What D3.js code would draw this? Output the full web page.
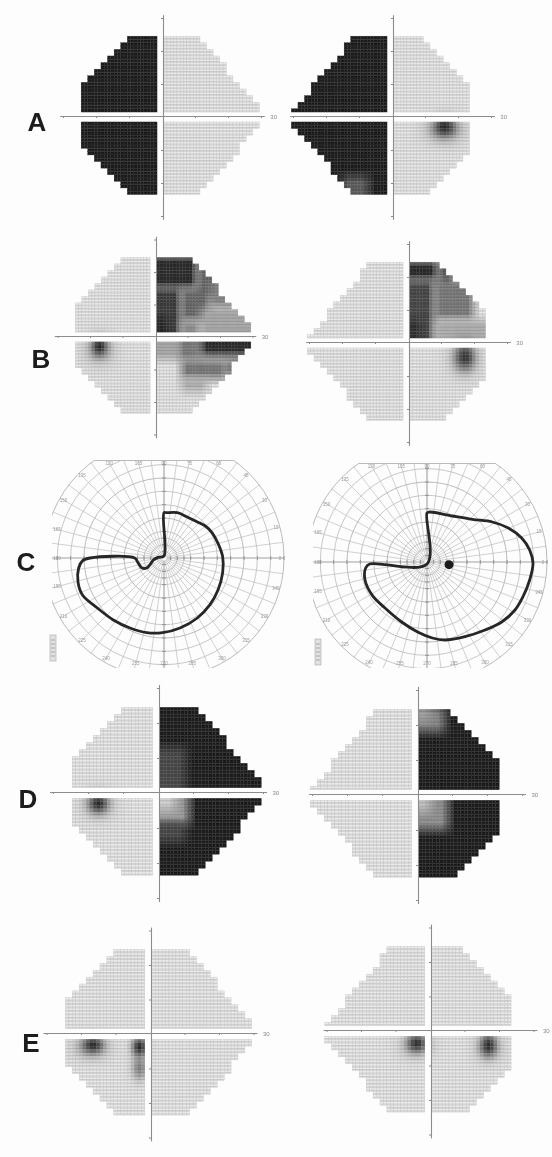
<!DOCTYPE html>
<html>
<head>
<meta charset="utf-8">
<script src="https://cdn.jsdelivr.net/npm/d3@7/dist/d3.min.js"></script>
<style>
body{margin:0;background:#fff}
svg{display:block}
</style>
</head>
<body>
<svg id="fig"></svg>
<script>
var W = 552, H = 1157;

// row letters
var rowLabels = ["A", "B", "C", "D", "E"];

// outline of the tested field, degrees (x to the right, y downward)
var outlineLeftEye  = [[-9.5,-24.5],[11,-24.5],[30.5,-1.5],[30.5,1.5],[11,24],[-9.5,24],[-24.5,9.5],[-24.5,-9.5]];
var outlineRightEye = [[-11,-24.5],[9.5,-24.5],[24,-9.5],[24,9.5],[9.5,24],[-11,24],[-30.5,1.5],[-30.5,-1.5]];

// grey scale maps: A left, A right, B left, B right, D left, D right, E left, E right
var mapEye = ["L","R","L","R","L","R","L","R"];
// sensitivity per quadrant [upper-left, upper-right, lower-left, lower-right], 1 normal, 0 absolute defect
var quadrantLevels = [
  [0,1,0,1], [0,1,0,1],
  [1,1,1,1], [1,1,1,1],
  [1,0,1,0], [1,0,1,0],
  [1,1,1,1], [1,1,1,1]
];
// relative defects [x0, x1, y0, y1, level]
var patches = [
  [],
  [[-15,-7,18,25,0.3]],
  [[0,13,-25,-15,0.06],[13,20,-23,-12,0.35],[0,8,-15,0,0.14],[0,4,-6,0,0.04],[8,17,-15,-5,0.36],
   [17,27,-17,-9,0.5],[8,14,-5,0,0.55],[14,31,-9,0,0.68],
   [0,7,0,7,0.68],[7,14,0,7,0.45],[14,31,0,6,0.06],[8,22,7,13,0.45],[22,27,7,12,0.35],[8,16,13,17,0.72]],
  [[0,9,-25,-19,0.06],[9,14,-25,-17,0.3],[0,8,-19,0,0.2],[0,4,-7,0,0.08],[8,20,-19,-7,0.45],[8,25,-7,0,0.72]],
  [[0,8,-13,0,0.2],[0,9,0,9,0.62],[0,5,0,5,0.88],[0,8,9,14,0.2]],
  [[0,8,-25,-18,0.5],[0,4,-25,-21,0.65],[0,9,0,10,0.55],[0,4,0,5,0.8]],
  [],
  []
];
// local scotomas [x, y, radius x, radius y, depth]
var scotomas = [
  [],
  [[16,3,3,2.6,0.95],[16,4,5.5,4,0.4]],
  [[-17,3,2.2,2.6,0.95],[-17,4,4.5,4.5,0.35]],
  [[17.3,4.2,2.8,3.8,0.85],[17,5,4.5,5,0.3]],
  [[-17,3,2.6,2.6,0.9],[-17,3.5,4.5,4,0.3]],
  [],
  [[-16.5,3.2,2.8,2.2,0.9],[-17,4,5,3.5,0.35],[-3,3.8,2.2,2.8,0.95],[-3,10,2.2,3.5,0.5]],
  [[-3.8,3.6,2.6,2.4,0.9],[-4,4.5,4.5,3.5,0.3],[17,4.2,2.2,3,0.9],[17,5,4,4,0.3]]
];
var axisTicks = [-30,-20,-10,10,20,30];

// Goldmann perimetry (row C): rings, meridians and isopters (degrees, x right, y up)
var goldmannRings = [5,10,15,20,30,40,50,60,70,80,90];
var goldmannMeridians = [0,7.5,15,22.5,30,37.5,45,52.5,60,67.5,75,82.5,90,97.5,105,112.5,120,127.5,135,142.5,
  150,157.5,165,172.5,180,187.5,195,202.5,210,217.5,225,232.5,240,247.5,255,262.5,270,277.5,285,292.5,
  300,307.5,315,322.5,330,337.5,345,352.5];
var meridianLabels = [0,15,30,45,60,75,90,105,120,135,150,165,180,195,210,225,240,255,270,285,300,315,330,345];
var isopterLeft = [[0,1.5],[0,34],[2,34],[10,34],[17,31],[25,27],[31,24],[36,19],[40.5,11],[44,1],[44,-11],
  [40.5,-24],[34.5,-35],[25,-45],[12,-52.5],[-1,-56],[-13,-56],[-25.5,-52.5],[-38,-46.5],[-50,-37.5],
  [-61,-28],[-64.5,-18],[-64,-7.5],[-61,-2],[-55.5,0],[-22,0],[-19.5,-3.5],[-16.5,-7.5],[-13,-7.5],
  [-10.5,-5],[-8,-1.5],[-4.5,0.5]];
var isopterRight = [[0,-1.5],[0,36.8],[2,37.5],[19,34.5],[34,32],[49,30],[61,25.5],[71,18],[77,9],
  [79.5,-1],[77,-13.5],[72,-26],[66,-36],[56,-45],[43.5,-51],[28.5,-56],[13.5,-58.5],[4,-57],
  [-7,-52.5],[-19,-45],[-31.5,-34.5],[-41,-25],[-46.5,-13.5],[-46,-4.5],[-43,-1.5]];
var blindSpotRight = [[16.5,-2]];

// layout (pixels)
var mapLayout = [
  {cx:162,cy:117,k:3.3},{cx:392,cy:117,k:3.3},
  {cx:155,cy:337,k:3.25},{cx:408,cy:343,k:3.3},
  {cx:158,cy:793,k:3.5},{cx:417,cy:795,k:3.5},
  {cx:150,cy:1034,k:3.45},{cx:430,cy:1031,k:3.45}
];
var goldLayout = [
  {cx:164,cy:558,box:[-112,121,-98,110]},
  {cx:427,cy:562,box:[-114,125,-99,106]}
];
var labelPos = [[37,131],[41,368],[26,571],[28,808],[31,1052]];

var svg = d3.select("#fig").attr("width", W).attr("height", H);
svg.append("rect").attr("width", W).attr("height", H).attr("fill", "#fdfdfd");

var defs = svg.append("defs");
defs.append("filter").attr("id","soft").append("feGaussianBlur").attr("stdDeviation",0.5);

var fillCol = d3.interpolateRgb("#191919", "#ebebeb");
var lineCol = d3.interpolateRgb("#262626", "#c0c0c0");

function ramp(t){ return Math.max(0, Math.min(1, 0.5 + t/4)); }
function edgeLo(u, e){ return e == 0 ? (u >= 0 ? 1 : 0) : ramp(u - e); }
function edgeHi(u, e){ return e == 0 ? (u <= 0 ? 1 : 0) : ramp(e - u); }

function drawMap(idx){
  var L = mapLayout[idx], k = L.k;
  var x = d3.scaleLinear().domain([-31,31]).range([L.cx-31*k, L.cx+31*k]);
  var y = d3.scaleLinear().domain([-31,31]).range([L.cy-31*k, L.cy+31*k]);
  var outline = mapEye[idx] == "L" ? outlineLeftEye : outlineRightEye;
  var cells = [];
  for (var i = -31; i <= 31; i++){
    if (i == -1 || i == 0) continue;
    for (var j = -26; j <= 26; j++){
      if (j >= -1 && j <= 1) continue;
      var bx = 2*Math.floor(i/2)+0.5, by = 2*Math.floor(j/2)+0.5;
      if (!d3.polygonContains(outline, [bx, by])) continue;
      var v = quadrantLevels[idx][(j < 0 ? 0 : 2) + (i < 0 ? 0 : 1)];
      patches[idx].forEach(function(p){
        var w = edgeLo(i, p[0]) * edgeHi(i, p[1]) * edgeLo(j, p[2]) * edgeHi(j, p[3]);
        v = v*(1-w) + p[4]*w;
      });
      scotomas[idx].forEach(function(s){
        var d = Math.pow((i-s[0])/s[2],2) + Math.pow((j-s[1])/s[3],2);
        v *= 1 - s[4]*Math.exp(-d);
      });
      cells.push({i:i, j:j, v:v});
    }
  }
  var g = svg.append("g").attr("filter","url(#soft)");
  g.selectAll("rect").data(cells).enter().append("rect")
    .attr("x", function(d){ return x(d.i-0.5); })
    .attr("y", function(d){ return y(d.j-0.5); })
    .attr("width", k).attr("height", k)
    .attr("fill", function(d){ return fillCol(d.v); })
    .attr("stroke", function(d){ return lineCol(Math.min(1, d.v + 0.12)); })
    .attr("stroke-width", 0.35);
  // horizontal rows of the print texture
  g.selectAll("line").data(cells).enter().append("line")
    .attr("x1", function(d){ return x(d.i-0.5); })
    .attr("x2", function(d){ return x(d.i+0.5); })
    .attr("y1", function(d){ return y(d.j+0.2); })
    .attr("y2", function(d){ return y(d.j+0.2); })
    .attr("stroke", function(d){ return lineCol(d.v); })
    .attr("stroke-width", 0.8);

  var xAxis = d3.axisBottom(x).tickValues(axisTicks).tickSize(2).tickSizeOuter(0).tickFormat("");
  var yAxis = d3.axisLeft(y).tickValues(axisTicks).tickSize(2).tickSizeOuter(0).tickFormat("");
  var ax = svg.append("g").attr("color","#8c8c8c").attr("filter","url(#soft)");
  ax.append("g").attr("transform","translate(0,"+(L.cy-1)+")").call(xAxis);
  ax.append("g").attr("transform","translate("+(L.cx+1)+",0)").call(yAxis);
  ax.selectAll("path.domain").attr("stroke-width",1.1);
  ax.append("text").attr("x", x(31)+6).attr("y", L.cy+2)
    .attr("font-family","Liberation Sans, Arial, sans-serif").attr("font-size",6)
    .attr("fill","#888").text("30");
}

function drawGoldmann(idx, isopter){
  var G = goldLayout[idx];
  var xg = d3.scaleLinear().domain([-90,90]).range([G.cx-120, G.cx+120]);
  var yg = d3.scaleLinear().domain([-90,90]).range([G.cy+120, G.cy-120]);
  var rs = d3.scaleLinear().domain([0,90]).range([0,120]);
  var b = G.box;
  var cid = "clipC"+idx;
  defs.append("clipPath").attr("id",cid).append("rect")
    .attr("x",G.cx+b[0]).attr("y",G.cy+b[2]).attr("width",b[1]-b[0]).attr("height",b[3]-b[2]);
  var g = svg.append("g").attr("filter","url(#soft)");
  var grid = g.append("g").attr("clip-path","url(#"+cid+")").attr("fill","none").attr("stroke","#bababa");
  grid.selectAll("circle").data(goldmannRings).enter().append("circle")
    .attr("cx",G.cx).attr("cy",G.cy).attr("r",function(d){ return rs(d); })
    .attr("stroke-width",function(d){ return d % 30 == 0 ? 1 : 0.8; });
  grid.selectAll("line.mer").data(goldmannMeridians).enter().append("line")
    .attr("x1",function(a){ var r0 = a % 15 == 0 ? 2 : 8; return xg(r0*Math.cos(a*Math.PI/180)); })
    .attr("y1",function(a){ var r0 = a % 15 == 0 ? 2 : 8; return yg(r0*Math.sin(a*Math.PI/180)); })
    .attr("x2",function(a){ return xg(90*Math.cos(a*Math.PI/180)); })
    .attr("y2",function(a){ return yg(90*Math.sin(a*Math.PI/180)); })
    .attr("stroke-width",function(a){ return a % 90 == 0 ? 1.1 : 0.7; })
    .attr("stroke",function(a){ return a % 90 == 0 ? "#a0a0a0" : "#bdbdbd"; });
  // top border of the chart, inside the outer ring
  var half = Math.sqrt(120*120 - b[2]*b[2]);
  grid.append("line").attr("x1",G.cx-half).attr("x2",G.cx+half)
    .attr("y1",G.cy+b[2]+0.5).attr("y2",G.cy+b[2]+0.5).attr("stroke-width",1);
  // small marks along the main meridians
  var marks = [];
  goldmannRings.forEach(function(r){ [0,90,180,270].forEach(function(a){ marks.push([r,a]); }); });
  grid.selectAll("line.mk").data(marks).enter().append("line")
    .attr("x1",function(d){ var c=Math.cos(d[1]*Math.PI/180), s=Math.sin(d[1]*Math.PI/180); return xg(d[0]*c) - 2*s; })
    .attr("x2",function(d){ var c=Math.cos(d[1]*Math.PI/180), s=Math.sin(d[1]*Math.PI/180); return xg(d[0]*c) + 2*s; })
    .attr("y1",function(d){ var c=Math.cos(d[1]*Math.PI/180); return yg(d[0]*Math.sin(d[1]*Math.PI/180)) - 2*c; })
    .attr("y2",function(d){ var c=Math.cos(d[1]*Math.PI/180); return yg(d[0]*Math.sin(d[1]*Math.PI/180)) + 2*c; })
    .attr("stroke","#909090").attr("stroke-width",0.9);
  // tiny meridian labels near the edge of the chart
  var labs = meridianLabels.map(function(a){
    var c = Math.cos(a*Math.PI/180), s = -Math.sin(a*Math.PI/180), t = 116;
    if (c > 1e-6) t = Math.min(t, (b[1]-5)/c);
    if (c < -1e-6) t = Math.min(t, (b[0]+5)/c);
    if (s > 1e-6) t = Math.min(t, (b[3]-5)/s);
    if (s < -1e-6) t = Math.min(t, (b[2]+3)/s);
    return {a:a, x:G.cx+t*c, y:G.cy+t*s};
  });
  g.selectAll("text.ml").data(labs).enter().append("text")
    .attr("x",function(d){ return d.x; }).attr("y",function(d){ return d.y+1.5; })
    .attr("text-anchor","middle").attr("font-family","Liberation Sans, Arial, sans-serif")
    .attr("font-size",4.5).attr("fill","#9a9a9a").text(function(d){ return d.a; });
  // little legend block in the lower left corner
  var lg = g.append("g").attr("transform","translate("+(G.cx+b[0]-2+(idx?4:0))+","+(G.cy+77)+")");
  lg.append("rect").attr("width",6).attr("height",26).attr("fill","#e2e2e2").attr("stroke","#a8a8a8").attr("stroke-width",0.6);
  lg.selectAll("line").data([5,9,13,17,21]).enter().append("line")
    .attr("x1",1).attr("x2",5).attr("y1",function(d){ return d; }).attr("y2",function(d){ return d; })
    .attr("stroke","#9a9a9a").attr("stroke-width",0.8);
  // isopter
  var line = d3.line().x(function(d){ return xg(d[0]); }).y(function(d){ return yg(d[1]); })
    .curve(d3.curveCatmullRomClosed.alpha(0.5));
  g.append("path").datum(isopter).attr("d",line).attr("fill","none")
    .attr("stroke","#262626").attr("stroke-width",2.8).attr("stroke-linejoin","round");
  return {g:g, xg:xg, yg:yg};
}

for (var m = 0; m < 8; m++) drawMap(m);
drawGoldmann(0, isopterLeft);
var gr = drawGoldmann(1, isopterRight);
gr.g.selectAll("circle.bs").data(blindSpotRight).enter().append("circle")
  .attr("cx",function(d){ return gr.xg(d[0]); }).attr("cy",function(d){ return gr.yg(d[1]); })
  .attr("r",4.5).attr("fill","#1e1e1e");

svg.selectAll("text.row").data(rowLabels).enter().append("text")
  .attr("class","row")
  .attr("x",function(d,i){ return labelPos[i][0]; })
  .attr("y",function(d,i){ return labelPos[i][1]; })
  .attr("text-anchor","middle")
  .attr("font-family","Liberation Sans, Arial, sans-serif")
  .attr("font-weight","bold").attr("font-size",26).attr("fill","#1c1c1c")
  .text(function(d){ return d; });
</script>
</body>
</html>
